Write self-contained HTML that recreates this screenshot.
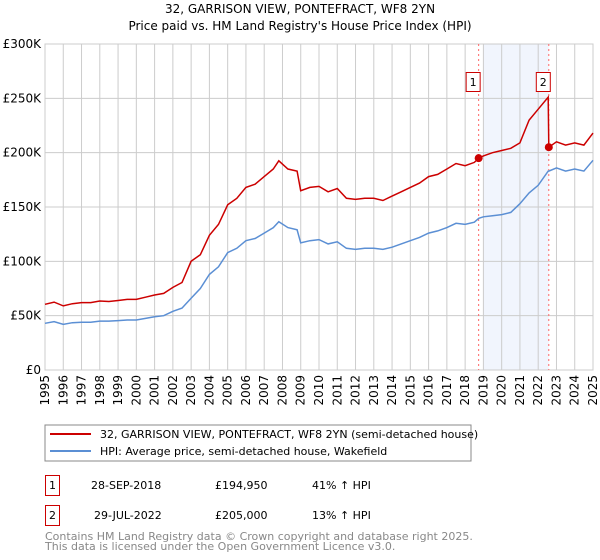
<!DOCTYPE html>
<html><head><meta charset="utf-8"><style>
body{margin:0;background:#fff;}
svg{display:block;font-family:"DejaVu Sans","Liberation Sans",sans-serif;}
</style></head><body>
<svg id="chart" width="600" height="560">
<text x="300" y="13" text-anchor="middle" font-size="12" fill="#000">32, GARRISON VIEW, PONTEFRACT, WF8 2YN</text>
<text x="300" y="30" text-anchor="middle" font-size="12" fill="#000">Price paid vs. HM Land Registry's House Price Index (HPI)</text>
<g id="grid"></g><g id="marks"></g><g id="axes"></g>
<g>
<rect x="45" y="425" width="426" height="36" fill="#fff" stroke="#888"/>
<line x1="50" y1="434" x2="91" y2="434" stroke="#cc0000" stroke-width="2"/>
<text x="100" y="438" font-size="11">32, GARRISON VIEW, PONTEFRACT, WF8 2YN (semi-detached house)</text>
<line x1="50" y1="451" x2="91" y2="451" stroke="#5b8fd4" stroke-width="2"/>
<text x="100" y="455" font-size="11">HPI: Average price, semi-detached house, Wakefield</text>
</g>
<g font-size="11">
<rect x="45.5" y="475.5" width="14" height="20" fill="none" stroke="#cc0000"/>
<text x="52.5" y="489" text-anchor="middle">1</text>
<text x="91" y="489">28-SEP-2018</text>
<text x="215" y="489">£194,950</text>
<text x="312" y="489">41% ↑ HPI</text>
<rect x="45.5" y="505.5" width="14" height="20" fill="none" stroke="#cc0000"/>
<text x="52.5" y="519" text-anchor="middle">2</text>
<text x="94" y="519">29-JUL-2022</text>
<text x="215" y="519">£205,000</text>
<text x="312" y="519">13% ↑ HPI</text>
</g>
<text x="45" y="540" font-size="11" fill="#888">Contains HM Land Registry data © Crown copyright and database right 2025.</text>
<text x="45" y="550" font-size="11" fill="#888">This data is licensed under the Open Government Licence v3.0.</text>
</svg>
<script>
const years=[1995,1995.5,1996,1996.5,1997,1997.5,1998,1998.5,1999,1999.5,2000,2000.5,2001,2001.5,2002,2002.5,2003,2003.5,2004,2004.5,2005,2005.5,2006,2006.5,2007,2007.5,2007.8,2008.3,2008.8,2009,2009.5,2010,2010.5,2011,2011.5,2012,2012.5,2013,2013.5,2014,2014.5,2015,2015.5,2016,2016.5,2017,2017.5,2018,2018.5,2018.75,2019,2019.5,2020,2020.5,2021,2021.5,2022,2022.55,2022.58,2023,2023.5,2024,2024.5,2025];
const hpi=[43,44.5,42,43.5,44,44,45,45,45.5,46,46,47.5,49,50,54,57,66,75,88,95,108,112,119,121,126,131,136.5,131,129,117,119,120,116,118,112,111,112,112,111,113,116,119,122,126,128,131,135,134,136,139.6,141,142,143,145,153,163,170,183,183,186,183,185,183,193];
const price=[60.5,62.5,59,61,62,62,63.5,63,64,65,65,67,69,70.5,76,80.5,100,106,124,134,152,158,168,171,178,185,192.5,185,183,165,168,169,164,167,158,157,158,158,156,160,164,168,172,178,180,185,190,188,191,194.95,197,200,202,204,209,230,240,251,205,210,207,209,207,218];
const saleYears=[2018.74,2022.58];
const saleValues=[194.95,205];
const saleLabels=["1","2"];
const yTicks=[0,50,100,150,200,250,300];
const yTickLabels=["£0","£50K","£100K","£150K","£200K","£250K","£300K"];
const xTicks=[1995,1996,1997,1998,1999,2000,2001,2002,2003,2004,2005,2006,2007,2008,2009,2010,2011,2012,2013,2014,2015,2016,2017,2018,2019,2020,2021,2022,2023,2024,2025];
const L=45,R=593,T=44,B=370,x0=1995,x1=2025,yMax=300;
const X=v=>L+(v-x0)/(x1-x0)*(R-L);
const Y=v=>B-v/yMax*(B-T);
const NS="http://www.w3.org/2000/svg";
function mk(p,tag,at){const e=document.createElementNS(NS,tag);for(const k in at)e.setAttribute(k,at[k]);p.appendChild(e);return e;}
const grid=document.getElementById('grid'),marks=document.getElementById('marks'),axes=document.getElementById('axes');
const shade=mk(grid,'rect',{x:X(2019),y:T,width:X(saleYears[1])-X(2019),height:B-T,fill:'#eef3fc',opacity:0.8});


xTicks.forEach(t=>{const l=mk(grid,'line',{x1:X(t),x2:X(t),y1:T,y2:B,stroke:'#ccc','stroke-width':1});


const tx=mk(axes,'text',{transform:`translate(${X(t)+4},${B+5}) rotate(-90)`,'text-anchor':'end','font-size':12});tx.textContent=t;

});
yTicks.forEach((t,i)=>{const l=mk(grid,'line',{x1:L,x2:R,y1:Y(t),y2:Y(t),stroke:'#ccc','stroke-width':1});


const tx=mk(axes,'text',{x:L-4,y:Y(t)+4,'text-anchor':'end','font-size':12});tx.textContent=yTickLabels[i];

});
const frame=mk(grid,'rect',{x:L,y:T,width:R-L,height:B-T,fill:'none',stroke:'#ccc'});


saleYears.forEach((s,i)=>{const l=mk(marks,'line',{x1:X(s),x2:X(s),y1:T,y2:B,stroke:'#ff6666','stroke-dasharray':'2,3'});

});
const pts=a=>a.map((v,i)=>X(years[i]).toFixed(1)+','+Y(v).toFixed(1)).join(' ');
const hl=mk(marks,'polyline',{points:pts(hpi),fill:'none',stroke:'#5b8fd4','stroke-width':1.5});


const pl=mk(marks,'polyline',{points:pts(price),fill:'none',stroke:'#cc0000','stroke-width':1.5});


saleYears.forEach((s,i)=>{const c=mk(marks,'circle',{cx:X(s),cy:Y(saleValues[i]),r:4,fill:'#cc0000'});


const bx=X(s)-12;const r=mk(marks,'rect',{x:bx-0.5,y:72.5,width:14,height:19,fill:'#fff',stroke:'#cc0000'});


const t=mk(marks,'text',{x:bx+6.5,y:86,'text-anchor':'middle','font-size':11});t.textContent=saleLabels[i];

});
</script>
</body></html>
